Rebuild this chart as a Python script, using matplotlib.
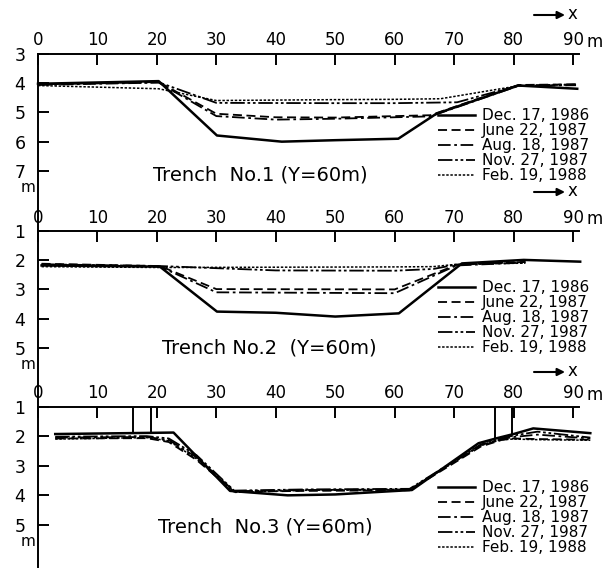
import matplotlib
matplotlib.use("Agg")
import matplotlib.pyplot as plt

W, H = 611, 570

# survey dates and their line styles
dates = ["Dec. 17, 1986", "June 22, 1987", "Aug. 18, 1987", "Nov. 27, 1987", "Feb. 19, 1988"]
styles = ["-", (0, (5, 2.5)), (0, (7, 2, 1.5, 2)), (0, (8, 1.5, 1.5, 1.5, 1.5, 1.5)), (0, (1.6, 1.1))]
widths = [1.8, 1.3, 1.3, 1.3, 1.1]

x_ticks = [0, 10, 20, 30, 40, 50, 60, 70, 80, 90]
x_labels = ["0", "10", "20", "30", "40", "50", "60", "70", "80", "90"]

# Trench No.1 : depth (m) along x (m)
t1_x_dec = [0, 20.3, 30.1, 41, 50, 60.6, 67, 80.8, 90.7]
t1_dec = [4.03, 3.94, 5.79, 6.0, 5.95, 5.90, 5.05, 4.09, 4.2]
t1_x_jun = [0, 20.3, 30, 40, 50, 60, 66, 80.8, 90.5]
t1_jun = [4.05, 3.97, 5.05, 5.17, 5.18, 5.13, 5.1, 4.07, 4.05]
t1_aug = [4.07, 3.99, 5.13, 5.25, 5.22, 5.17, 5.14, 4.1, 4.08]
t1_x_nov = [0, 20.3, 30, 50, 60, 70.5, 80.8, 90.5]
t1_nov = [4.05, 3.98, 4.68, 4.69, 4.69, 4.66, 4.09, 4.05]
t1_x_feb = [0, 20.3, 30, 50, 60, 67.7, 80.8, 90.5]
t1_feb = [4.09, 4.2, 4.6, 4.57, 4.56, 4.54, 4.1, 4.06]

# Trench No.2
t2_x_dec = [0.6, 20.5, 30.1, 40, 50, 60.7, 71.3, 81.7, 91.2]
t2_dec = [2.18, 2.22, 3.76, 3.8, 3.93, 3.82, 2.11, 1.99, 2.05]
t2_x_jun = [0.6, 20.5, 30, 60, 70.4, 82]
t2_jun = [2.12, 2.2, 2.99, 3.0, 2.16, 2.06]
t2_aug = [2.15, 2.22, 3.1, 3.13, 2.18, 2.08]
t2_x_late = [0.6, 20.5, 40, 60, 66.5, 70.4, 82]
t2_nov = [2.14, 2.2, 2.35, 2.36, 2.3, 2.15, 2.06]
t2_feb = [2.22, 2.25, 2.24, 2.23, 2.22, 2.14, 2.1]

# Trench No.3
t3_x_dec = [2.9, 15, 22.8, 32.3, 42, 50, 62.9, 74.1, 77.2, 80, 83.3, 92.9]
t3_dec = [1.93, 1.9, 1.88, 3.85, 4.0, 3.97, 3.82, 2.24, 2.07, 1.93, 1.74, 1.9]
t3_x = [2.9, 18.3, 22, 26.7, 33, 45, 62.5, 74.5, 78, 80, 84, 92.9]
t3_jun = [2.08, 2.07, 2.2, 2.81, 3.88, 3.85, 3.83, 2.35, 2.13, 2.08, 2.1, 2.12]
t3_aug = [2.05, 2.03, 2.13, 2.72, 3.86, 3.82, 3.8, 2.3, 2.1, 2.03, 1.95, 2.08]
t3_nov = [2.02, 2.0, 2.08, 2.65, 3.84, 3.8, 3.78, 2.28, 2.08, 1.98, 1.85, 2.05]
t3_feb = [2.1, 2.05, 2.16, 2.77, 3.9, 3.83, 3.81, 2.32, 2.12, 2.1, 2.12, 2.14]

# piles drawn in trench 3 (x position, depth of lower end)
pile_x = [15.9, 19.0, 76.9, 79.7]
pile_bottom = [1.9, 1.9, 2.1, 1.93]

plt.rcParams["font.family"] = "DejaVu Sans"

fig = plt.figure(figsize=(W / 100, H / 100), dpi=100)


def px(x, y):
    # image pixel -> figure fraction
    return x / W, 1 - y / H


panels = [
    # top px, bottom px, top value, bottom value, y ticks, title, title x/y, legend top px, arrow px
    (53.5, 231, 3, 9.04, [3, 4, 5, 6, 7], "Trench  No.1 (Y=60m)", 19.3, 7.13, 108, 192),
    (231, 406.5, 1, 7.01, [1, 2, 3, 4, 5], "Trench No.2  (Y=60m)", 20.9, 5.0, 280, 372),
    (406.5, 567, 1, 6.42, [1, 2, 3, 4, 5], "Trench  No.3 (Y=60m)", 20.2, 5.07, 480, None),
]

series = [
    [(t1_x_dec, t1_dec), (t1_x_jun, t1_jun), (t1_x_jun, t1_aug), (t1_x_nov, t1_nov), (t1_x_feb, t1_feb)],
    [(t2_x_dec, t2_dec), (t2_x_jun, t2_jun), (t2_x_jun, t2_aug), (t2_x_late, t2_nov), (t2_x_late, t2_feb)],
    [(t3_x_dec, t3_dec), (t3_x, t3_jun), (t3_x, t3_aug), (t3_x, t3_nov), (t3_x, t3_feb)],
]


def x_arrow(ay):
    # "--> x" direction mark
    fig.add_artist(plt.matplotlib.patches.FancyArrowPatch(
        px(534, ay), px(565, ay), transform=fig.transFigure, arrowstyle="-|>",
        color="black", lw=1.5, mutation_scale=11, shrinkA=0, shrinkB=0))
    fig.text(*px(572, ay - 1), "x", fontsize=12, ha="center", va="center")


x_arrow(15)

left, right = 38, 579
for i, (top, bot, v0, v1, yt, title, tx, ty, leg_top, ay) in enumerate(panels):
    ax = fig.add_axes([left / W, 1 - bot / H, (right - left) / W, (bot - top) / H])
    ax.set_xlim(0, 91)
    ax.set_ylim(v1, v0)
    for s in ["right", "bottom"]:
        ax.spines[s].set_visible(False)
    for s in ["left", "top"]:
        ax.spines[s].set_linewidth(1.4)
    ax.xaxis.tick_top()
    ax.set_xticks(x_ticks)
    ax.set_xticklabels(x_labels, fontsize=12)
    ax.set_yticks(yt)
    ax.set_yticklabels([str(v) for v in yt], fontsize=12.5)
    ax.tick_params(axis="x", direction="in", length=8, width=1.4, pad=3)
    ax.tick_params(axis="y", direction="in", length=8, width=1.4, pad=9)
    ax.patch.set_visible(False)

    for (xs, ys), lab, ls, lw in zip(series[i], dates, styles, widths):
        ax.plot(xs, ys, color="black", linestyle=ls, linewidth=lw, label=lab, clip_on=False)

    if i == 2:
        ax.vlines(pile_x, v0, pile_bottom, color="black", linewidth=1.4)

    ax.text(tx, ty, title, fontsize=14, ha="left", va="center")

    # "m" unit under the lowest y tick and after 90
    ax.annotate("m", xy=(0, yt[-1]), xytext=(-7, -12), textcoords="offset points",
                ha="center", va="center", fontsize=11)
    ax.annotate("m", xy=(90, v0), xytext=(10, 8.5), textcoords="offset points",
                ha="left", va="center", fontsize=12, annotation_clip=False)

    ax.legend(loc="upper left", bbox_to_anchor=px(438, leg_top), bbox_transform=fig.transFigure,
              frameon=False, fontsize=11, handlelength=2.4, handletextpad=0.45,
              labelspacing=0.0, borderpad=0, borderaxespad=0)

    if ay is not None:
        x_arrow(ay)

fig.savefig("out.png", dpi=100)
